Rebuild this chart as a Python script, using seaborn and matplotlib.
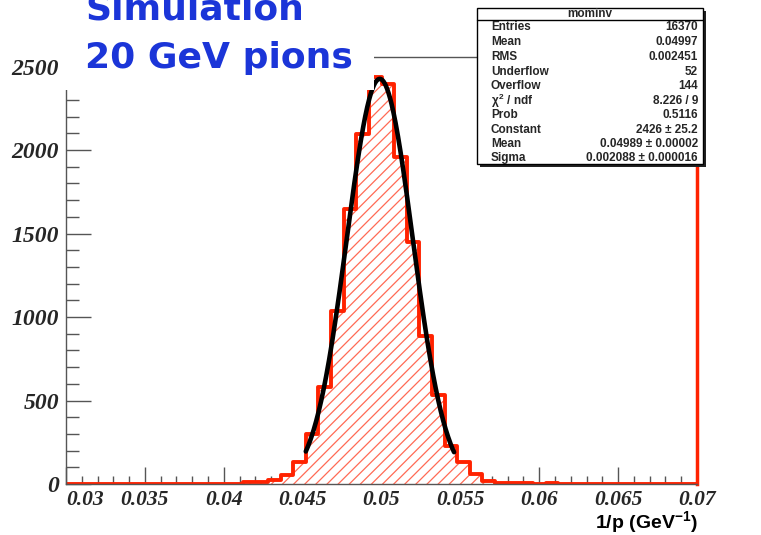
import numpy as np
import pandas as pd
import matplotlib
matplotlib.use("Agg")
import matplotlib.pyplot as plt
from matplotlib.patches import Rectangle
from matplotlib.lines import Line2D
from matplotlib.ticker import MultipleLocator
import seaborn as sns

# ---------------- data ----------------
x_min, x_max, n_bins = 0.03, 0.07, 50
counts = [0] * 14 + [10, 10, 24, 53, 134, 300, 578, 1038, 1649, 2098,
                     2439, 2397, 1956, 1447, 888, 535, 229, 129, 57, 16,
                     7, 6, 5, 2, 3, 1, 2, 2, 1, 2, 1, 1, 0, 1, 1, 0]
fit_constant, fit_mean, fit_sigma = 2426.0, 0.04989, 0.002088
fit_range = [0.0452, 0.0546]

x_ticks = [0.03, 0.035, 0.04, 0.045, 0.05, 0.055, 0.06, 0.065, 0.07]
x_tick_labels = ["0.03", "0.035", "0.04", "0.045", "0.05", "0.055", "0.06", "0.065", "0.07"]
y_ticks = [0, 500, 1000, 1500, 2000, 2500]
y_tick_labels = ["0", "500", "1000", "1500", "2000", "2500"]

stats_title = "mominv"
stats_names = ["Entries", "Mean", "RMS", "Underflow", "Overflow", r"$\chi^{2}$ / ndf",
               "Prob", "Constant", "Mean", "Sigma"]
stats_values = ["16370", "0.04997", "0.002451", "52", "144", "8.226 / 9",
                "0.5116", "2426 \u00b1 25.2", "0.04989 \u00b1 0.00002", "0.002088 \u00b1 0.000016"]
title_lines = ["Simulation", "20 GeV pions"]
x_label = r"1/p (GeV$^{-1}$)"

# ---------------- style ----------------
sns.set_style("white")
plt.rcParams["font.family"] = ["Liberation Sans", "DejaVu Sans"]
plt.rcParams["mathtext.fontset"] = "custom"
plt.rcParams["mathtext.rm"] = "Liberation Sans:bold"
plt.rcParams["mathtext.it"] = "Liberation Sans:bold"
plt.rcParams["mathtext.bf"] = "Liberation Sans:bold"
plt.rcParams["hatch.linewidth"] = 0.9
hatch_col = "#ff6a55"
plt.rcParams["hatch.color"] = hatch_col
red = "#ff2200"

W, H = 761, 535
fig = plt.figure(figsize=(W / 100, H / 100), dpi=100)
fig.patch.set_facecolor("white")


def fx(p):
    return p / W


def fy(p):
    return 1 - p / H


ax = fig.add_axes([fx(66), fy(484), fx(697) - fx(66), fy(57) - fy(484)])

edges = list(np.linspace(x_min, x_max, n_bins + 1))
centers = [(a + b) / 2 for a, b in zip(edges[:-1], edges[1:])]
df = pd.DataFrame({"x": centers, "n": counts})

# hatched fill
sns.histplot(data=df, x="x", weights="n", bins=edges, element="step", fill=True,
             color="white", alpha=1, linewidth=0, ax=ax)
poly = ax.collections[-1]
poly.set_facecolor("white")
poly.set_edgecolor(hatch_col)
poly.set_hatch("///")
poly.set_linewidth(0)

# outline
sns.histplot(data=df, x="x", weights="n", bins=edges, element="step", fill=False,
             color=red, linewidth=2.8, ax=ax)

# gaussian fit
xf = np.linspace(fit_range[0], fit_range[1], 300)
yf = fit_constant * np.exp(-0.5 * ((xf - fit_mean) / fit_sigma) ** 2)
sns.lineplot(x=xf, y=yf, color="black", linewidth=3.3, ax=ax, sort=False)

ax.set_xlim(x_min, x_max)
ax.set_ylim(0, 2557)
ax.set_xlabel("")
ax.set_ylabel("")

ax.set_xticks(x_ticks, labels=x_tick_labels)
ax.set_yticks(y_ticks, labels=y_tick_labels)
ax.xaxis.set_minor_locator(MultipleLocator(0.001))
ax.yaxis.set_minor_locator(MultipleLocator(100))
ax.tick_params(axis="both", which="both", direction="in", color="#555555", width=1,
               bottom=True, left=True, top=False, right=False)
ax.tick_params(axis="x", which="major", length=12, pad=4)
ax.tick_params(axis="x", which="minor", length=6)
ax.tick_params(axis="y", which="major", length=18, pad=5)
ax.tick_params(axis="y", which="minor", length=9)

for lbl in ax.get_xticklabels():
    lbl.set_fontfamily("Liberation Serif")
    lbl.set_fontweight("bold")
    lbl.set_fontstyle("italic")
    lbl.set_fontsize(15.5)
for lbl in ax.get_yticklabels():
    lbl.set_fontfamily("Liberation Serif")
    lbl.set_fontweight("bold")
    lbl.set_fontstyle("italic")
    lbl.set_fontsize(17)

xl = ax.get_xticklabels()
xl[0].set_ha("left")

for side in ["left", "top", "bottom"]:
    ax.spines[side].set_color("#555555")
    ax.spines[side].set_linewidth(1)
ax.spines["right"].set_color(red)
ax.spines["right"].set_linewidth(2.5)

# x axis title
fig.text(fx(698), fy(522), x_label, ha="right", va="center", fontsize=14,
         fontweight="bold", color="black")

# title pave (covers frame top-left)
fig.add_artist(Rectangle((fx(63), fy(90)), fx(374) - fx(63), fy(0) - fy(90),
                         transform=fig.transFigure, facecolor="white", edgecolor="none", zorder=2))
blue = "#1b35d8"
fig.text(fx(85), fy(20), title_lines[0], ha="left", va="baseline", fontsize=26,
         fontweight="bold", color=blue, family="DejaVu Sans", zorder=3)
fig.text(fx(85), fy(68), title_lines[1], ha="left", va="baseline", fontsize=26,
         fontweight="bold", color=blue, family="DejaVu Sans", zorder=3)

# stats box
bx0, bx1, by0, by1 = 477, 703, 8, 164
fig.add_artist(Rectangle((fx(bx0 + 3), fy(by1 + 3)), fx(bx1 - bx0), fy(by0) - fy(by1),
                         transform=fig.transFigure, facecolor="#222222", edgecolor="none", zorder=2))
fig.add_artist(Rectangle((fx(bx0), fy(by1)), fx(bx1 - bx0), fy(by0) - fy(by1),
                         transform=fig.transFigure, facecolor="white", edgecolor="black",
                         linewidth=1, zorder=2.5))
fig.add_artist(Line2D([fx(bx0), fx(bx1)], [fy(20), fy(20)], transform=fig.transFigure,
                      color="black", linewidth=1, zorder=3))
fig.text(fx((bx0 + bx1) / 2), fy(14), stats_title, ha="center", va="center",
         fontsize=8.5, fontweight="bold", zorder=4)
row_y = [27, 42, 57, 72, 86.5, 101, 115, 130, 144, 158]
for yy, nm, val in zip(row_y, stats_names, stats_values):
    fig.text(fx(491), fy(yy), nm, ha="left", va="center", fontsize=8.5,
             fontweight="bold", zorder=4)
    fig.text(fx(698), fy(yy), val, ha="right", va="center", fontsize=8.5,
             fontweight="bold", zorder=4)

fig.savefig("out.png", dpi=100, facecolor="white")
